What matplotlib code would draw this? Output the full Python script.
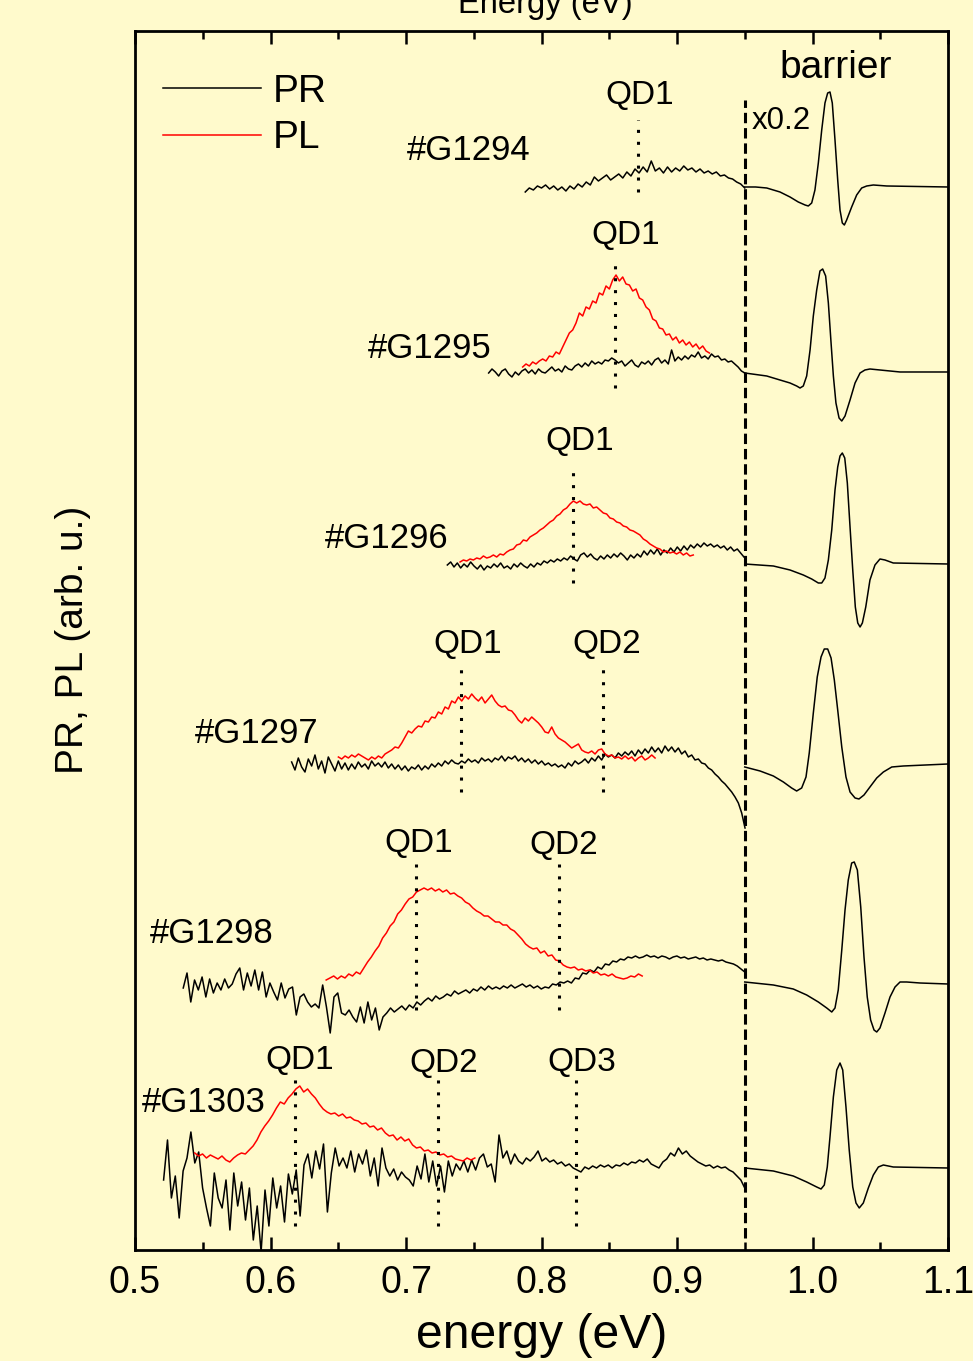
import numpy as np
import matplotlib
matplotlib.use('Agg')
import matplotlib.pyplot as plt
from matplotlib.ticker import MultipleLocator, FormatStrFormatter

plt.rcParams['font.family'] = ['Liberation Sans', 'DejaVu Sans']

# ---------------- data ----------------
samples = ['#G1294', '#G1295', '#G1296', '#G1297', '#G1298', '#G1303']
offsets = [1063, 877, 686, 483, 268, 82]

# PR spectra: (E start, E stop) and values on an even grid
pr_g1294_range = (0.788, 0.950)
pr_g1294 = [-5, -1, -3, 1, -1, 2, -2, 1, -3, 0, -4, 1, -2, 3, 0, 5, 2, 10, 6, 9,
            12, 7, 10, 13, 9, 15, 11, 18, 14, 20, 15, 26, 16, 19, 14, 20, 15, 19, 16, 21,
            17, 19, 15, 18, 14, 16, 13, 15, 11, 12, 9, 8, 5, 3, -1]

pr_g1295_range = (0.761, 0.950)
pr_g1295 = [0, 4, 1, -3, 2, 4, -1, -4, 1, -2, 2, 4, 0, 3, -1, 4, 1, 0, 3, 6,
            2, 4, 1, 7, 4, 3, 7, 9, 6, 10, 7, 12, 9, 11, 9, 13, 12, 15, 13, 10,
            12, 7, 10, 13, 8, 6, 11, 9, 12, 8, 13, 15, 10, 13, 9, 23, 12, 16, 13, 17,
            14, 18, 16, 21, 15, 17, 14, 19, 16, 17, 13, 14, 11, 12, 9, 6, 2, 0]

pr_g1296_range = (0.7305, 0.9494)
pr_g1296 = [-1, 2, -3, 1, -4, 0, -3, 2, -2, -5, -1, -6, -2, -4, 0, -3, 1, -4, -2, -5,
            0, -3, 1, -2, -4, 0, -3, 1, -1, 3, 1, 4, 2, 5, 3, 6, 4, 8, 5, 3,
            9, 11, 7, 10, 6, 4, 8, 5, 9, 6, 10, 7, 11, 8, 4, 9, 6, 10, 7, 13,
            9, 14, 10, 15, 9, 14, 11, 16, 12, 17, 13, 18, 14, 19, 16, 20, 17, 21, 18, 20,
            17, 19, 16, 18, 14, 17, 13, 15, 11, 7]

pr_g1297_range = (0.6156, 0.9502)
pr_g1297 = [5, -3, 9, 0, -5, 8, 1, 12, -2, 6, -6, 10, 3, -4, 6, -2, 4, -3, 3, -2,
            5, 0, 3, -2, 6, 1, 4, 0, 5, -1, 3, -2, 2, -3, 1, -4, 0, -2, 2, -3,
            1, -2, 3, 0, 4, 1, 6, 3, 7, 4, 3, 6, 4, 8, 5, 7, 4, 9, 6, 8,
            5, 9, 7, 11, 6, 10, 8, 11, 6, 9, 5, 8, 4, 7, 3, 6, 2, 4, 1, 3,
            0, 2, -1, 4, 1, 6, 3, 5, 8, 4, 9, 6, 11, 7, 13, 10, 12, 9, 14, 11,
            15, 12, 16, 11, 17, 13, 18, 14, 20, 15, 19, 14, 21, 16, 20, 15, 19, 13, 16, 10,
            12, 7, 8, 4, 3, -1, -3, -7, -10, -14, -17, -21, -25, -30, -36, -46, -61]

pr_g1298_range = (0.5356, 0.9500)
pr_g1298 = [-6, 9, -20, 2, -8, 5, -15, 3, -11, -1, -8, 3, -6, -2, 8, 14, -8, 9, -4, 12,
            -8, 10, -15, -1, -10, -18, -1, -16, -7, -5, -33, -15, -12, -20, -25, -22, -26, -3, -25, -51,
            -15, -11, -31, -33, -28, -35, -40, -25, -41, -20, -38, -26, -48, -35, -31, -26, -30, -27, -24, -28,
            -23, -26, -20, -23, -19, -16, -19, -14, -17, -15, -12, -14, -9, -12, -10, -8, -11, -7, -9, -5,
            -8, -4, -7, -5, -7, -4, -6, -3, -6, -4, -2, -5, -3, -6, -4, -7, -5, -6, -2, -3,
            0, -1, 1, -1, 4, 3, 9, 8, 12, 10, 15, 13, 18, 17, 21, 20, 23, 22, 25, 24,
            26, 24, 25, 27, 25, 26, 24, 26, 25, 23, 25, 26, 24, 25, 23, 24, 25, 23, 24, 22,
            23, 22, 21, 22, 20, 19, 18, 16, 13, 10]

pr_g1303_range = (0.5211, 0.9500)
pr_g1303 = [-12, 28, -30, -8, -50, -3, 10, 36, 5, 16, -20, -40, -58, -5, -30, -40, -12, -62, -5, -38,
            -14, -52, -20, -72, -38, -84, -22, -58, -10, -40, -18, -54, -6, -26, -2, -48, 3, 14, -10, 17,
            -1, 24, -44, -5, 20, 2, 10, 0, 17, -4, 14, 4, 18, -8, 10, -18, 20, 0, -8, -1,
            -12, -4, -9, -12, -18, 2, -11, 14, -14, 7, -18, 2, -24, 7, -8, 4, -2, 7, -4, 8,
            -2, 10, 14, 1, 4, -14, 33, 10, 17, 4, 14, 7, 4, 10, 7, 11, 17, 7, 10, 6,
            8, 4, 6, 2, 4, 0, -2, -4, 1, -1, 2, 0, 3, 1, 3, 0, 3, 2, 5, 3,
            6, 5, 8, 6, 9, 4, 2, 0, 6, 9, 15, 12, 20, 14, 17, 12, 9, 6, 4, 2,
            3, 0, 2, 0, 1, -2, -4, -8, -12, -20]

# PL spectra
pl_g1295_range = (0.7861, 0.9239)
pl_g1295 = [6, 9, 7, 11, 9, 12, 14, 12, 17, 16, 21, 19, 26, 33, 40, 43, 50, 60, 57, 66,
            64, 72, 70, 80, 78, 87, 84, 93, 98, 92, 96, 89, 88, 82, 84, 75, 73, 66, 63, 54,
            52, 45, 44, 38, 39, 33, 36, 30, 33, 28, 31, 26, 29, 24, 27, 22, 20]

pl_g1296_range = (0.7399, 0.9120)
pl_g1296 = [2, 4, 3, 5, 4, 6, 5, 8, 6, 7, 9, 7, 10, 9, 12, 14, 15, 19, 20, 24,
            23, 27, 29, 31, 34, 36, 39, 42, 44, 48, 50, 54, 56, 60, 63, 61, 63, 60, 59, 60,
            56, 57, 54, 51, 50, 46, 45, 42, 41, 38, 37, 34, 33, 31, 29, 25, 23, 20, 18, 16,
            15, 12, 13, 11, 12, 10, 12, 9, 11, 8, 9]

pl_g1297_range = (0.6501, 0.8838)
pl_g1297 = [10, 8, 11, 9, 12, 10, 13, 11, 9, 7, 10, 8, 11, 9, 13, 15, 17, 20, 19, 24,
            30, 36, 34, 38, 41, 40, 46, 45, 50, 49, 55, 53, 60, 58, 66, 64, 70, 66, 71, 68,
            73, 69, 66, 70, 64, 68, 72, 66, 62, 60, 61, 57, 56, 52, 47, 44, 49, 46, 50, 47,
            44, 40, 35, 34, 40, 33, 29, 27, 25, 22, 19, 21, 23, 17, 15, 14, 16, 13, 17, 18,
            13, 11, 12, 9, 10, 8, 11, 8, 10, 6, 9, 11, 7, 9, 12, 9]

pl_g1298_range = (0.6411, 0.8743)
pl_g1298 = [2, 4, 6, 3, 6, 4, 8, 6, 10, 8, 14, 20, 25, 31, 36, 44, 49, 56, 60, 68,
            72, 78, 83, 85, 90, 92, 94, 92, 94, 91, 93, 90, 92, 88, 89, 86, 84, 80, 78, 74,
            71, 69, 66, 66, 63, 60, 60, 57, 57, 53, 51, 47, 43, 38, 35, 33, 34, 29, 31, 26,
            27, 22, 21, 17, 15, 14, 15, 12, 13, 11, 12, 9, 10, 7, 8, 6, 8, 5, 4, 3,
            4, 6, 5, 8, 6]

pl_g1303_range = (0.5441, 0.7508)
pl_g1303 = [15, 12, 14, 10, 13, 11, 9, 12, 8, 6, 10, 13, 15, 14, 18, 22, 28, 36, 42, 47,
            53, 60, 66, 64, 70, 74, 79, 82, 76, 79, 74, 70, 64, 59, 56, 54, 55, 52, 54, 50,
            51, 48, 47, 44, 45, 41, 42, 38, 40, 35, 32, 33, 28, 31, 27, 29, 23, 20, 21, 17,
            18, 15, 16, 13, 14, 11, 12, 9, 8, 7, 10, 8, 10]

# barrier PR (x0.2): energies and values
bar_g1294_e = [0.950, 0.958, 0.9662, 0.9760, 0.9834, 0.9895, 0.9945, 0.9969, 0.9994, 1.0018,
               1.0043, 1.0068, 1.0092, 1.0112, 1.0129, 1.0146, 1.0166, 1.0186, 1.0203, 1.0220,
               1.0235, 1.0252, 1.0289, 1.0326, 1.0363, 1.0400, 1.0449, 1.0548, 1.100]
bar_g1294 = [0, 0, -1, -5, -10, -15, -18, -19, -16, -3,
             24, 57, 84, 94, 95, 84, 47, 7, -23, -36,
             -38, -33, -20, -8, -1, 1, 2, 1, 0]

bar_g1295_e = [0.950, 0.9662, 0.9760, 0.9834, 0.9883, 0.9908, 0.9932, 0.9957, 0.9982, 1.0006,
               1.0031, 1.0055, 1.0075, 1.0097, 1.0117, 1.0137, 1.0154, 1.0173, 1.0196, 1.0216,
               1.0240, 1.0277, 1.0314, 1.0351, 1.0387, 1.0424, 1.0498, 1.0646, 1.100]
bar_g1295 = [0, -3, -7, -10, -13, -15, -13, -3, 23, 57,
             83, 102, 104, 97, 70, 30, -3, -30, -45, -48,
             -43, -27, -10, 0, 3, 4, 3, 1, 1]

bar_g1296_e = [0.950, 0.9711, 0.9834, 0.9932, 0.9994, 1.0043, 1.0068, 1.0092, 1.0117, 1.0142,
               1.0166, 1.0186, 1.0203, 1.0220, 1.0238, 1.0257, 1.0277, 1.0297, 1.0316, 1.0334,
               1.0351, 1.0368, 1.0393, 1.0424, 1.0461, 1.0498, 1.0535, 1.0596, 1.100]
bar_g1296 = [0, -2, -6, -11, -15, -19, -19, -14, 4, 34,
             74, 97, 108, 111, 106, 81, 37, -6, -43, -59,
             -63, -59, -43, -16, -1, 5, 4, 1, 0]

bar_g1297_e = [0.950, 0.9613, 0.9711, 0.9785, 0.9846, 0.9883, 0.9920, 0.9952, 0.9976, 1.0006,
               1.0035, 1.0063, 1.0087, 1.0112, 1.0137, 1.0161, 1.0186, 1.0216, 1.0247, 1.0277,
               1.0314, 1.0343, 1.0380, 1.0424, 1.0474, 1.0523, 1.0585, 1.0670, 1.100]
bar_g1297 = [0, -4, -9, -15, -21, -24, -21, -10, 14, 54,
             90, 110, 118, 118, 109, 87, 57, 20, -10, -25,
             -31, -32, -28, -20, -11, -5, 0, 1, 3]

bar_g1298_e = [0.950, 0.9711, 0.9858, 0.9957, 1.0043, 1.0105, 1.0142, 1.0166, 1.0190, 1.0216,
               1.0240, 1.0264, 1.0289, 1.0308, 1.0331, 1.0356, 1.0380, 1.0404, 1.0429, 1.0454,
               1.0474, 1.0498, 1.0535, 1.0572, 1.0609, 1.0646, 1.0695, 1.0793, 1.100]
bar_g1298 = [0, -3, -7, -13, -20, -26, -30, -26, -8, 32,
             72, 102, 119, 120, 112, 75, 25, -15, -38, -48,
             -50, -46, -31, -15, -5, 0, 0, -1, -2]

bar_g1303_e = [0.950, 0.9711, 0.9858, 0.9957, 1.0031, 1.0063, 1.0087, 1.0109, 1.0129, 1.0154,
               1.0179, 1.0203, 1.0223, 1.0247, 1.0271, 1.0297, 1.0321, 1.0345, 1.0375, 1.0412,
               1.0449, 1.0486, 1.0523, 1.0596, 1.100]
bar_g1303 = [0, -3, -8, -14, -19, -21, -17, 1, 31, 71,
             98, 105, 98, 61, 18, -19, -35, -40, -35, -20,
             -7, 1, 3, 1, 0]

# QD transition energies per sample
qd_energies = {
    '#G1294': [('QD1', 0.8712)],
    '#G1295': [('QD1', 0.8542)],
    '#G1296': [('QD1', 0.8235)],
    '#G1297': [('QD1', 0.7406), ('QD2', 0.8454)],
    '#G1298': [('QD1', 0.7077), ('QD2', 0.8132)],
    '#G1303': [('QD1', 0.6181), ('QD2', 0.7236), ('QD3', 0.8255)],
}
barrier_edge = 0.95

# ---------------- layout / style ----------------
pr_data = [(pr_g1294_range, pr_g1294), (pr_g1295_range, pr_g1295), (pr_g1296_range, pr_g1296),
           (pr_g1297_range, pr_g1297), (pr_g1298_range, pr_g1298), (pr_g1303_range, pr_g1303)]
pl_data = [None, (pl_g1295_range, pl_g1295), (pl_g1296_range, pl_g1296),
           (pl_g1297_range, pl_g1297), (pl_g1298_range, pl_g1298), (pl_g1303_range, pl_g1303)]
bar_data = [(bar_g1294_e, bar_g1294), (bar_g1295_e, bar_g1295), (bar_g1296_e, bar_g1296),
            (bar_g1297_e, bar_g1297), (bar_g1298_e, bar_g1298), (bar_g1303_e, bar_g1303)]

bg = '#FFFACC'
fig = plt.figure(figsize=(9.73, 13.61), dpi=100, facecolor=bg)
ax = fig.add_axes([0.13875, 0.08156, 0.83556, 0.89567])
ax.set_facecolor(bg)
ax.set_xlim(0.5, 1.1)
ax.set_ylim(0, 1219)

lw = 1.1
for i, s in enumerate(samples):
    off = offsets[i]
    rng, vals = pr_data[i]
    e = np.linspace(rng[0], rng[1], len(vals))
    ax.plot(e, off + np.asarray(vals), color='black', lw=lw)
    if pl_data[i] is not None:
        rng, vals = pl_data[i]
        e = np.linspace(rng[0], rng[1], len(vals))
        ax.plot(e, off + np.asarray(vals), color='red', lw=lw)
    be, bv = bar_data[i]
    ax.plot(be, off + np.asarray(bv), color='black', lw=lw)

# dashed barrier edge
ax.plot([barrier_edge, barrier_edge], [12, 1150], color='black', lw=2.2,
        linestyle=(0, (3.4, 1.6)))

# QD dotted lines and labels
qd_line_y = {'#G1294': (1058, 1130), '#G1295': (862, 989), '#G1296': (667, 783),
             '#G1297': (458, 584), '#G1298': (240, 386), '#G1303': (24, 174)}
qd_label_pos = {'#G1294': [(0.8727, 1146)], '#G1295': [(0.8624, 1006)],
                '#G1296': [(0.8284, 800)],
                '#G1297': [(0.7458, 597), (0.8483, 597)],
                '#G1298': [(0.7096, 398), (0.8166, 396)],
                '#G1303': [(0.6218, 181), (0.7280, 178), (0.8299, 179)]}
for s in samples:
    y0, y1 = qd_line_y[s]
    for (name, en), (lx, ly) in zip(qd_energies[s], qd_label_pos[s]):
        ax.plot([en, en], [y0, y1], color='black', lw=2.2, linestyle=(0, (1, 2.9)))
        ax.text(lx, ly, name, fontsize=24, ha='center', va='baseline')

# sample labels
label_pos = [(0.7007, 1090), (0.6720, 892), (0.6402, 702), (0.5443, 507), (0.5111, 307), (0.5052, 138)]
for s, (lx, ly) in zip(samples, label_pos):
    ax.text(lx, ly, s, fontsize=25, ha='left', va='baseline')

ax.text(1.0173, 1172, 'barrier', fontsize=28, ha='center', va='baseline')
ax.text(0.9554, 1121, 'x0.2', fontsize=22.5, ha='left', va='baseline')

# legend (manual)
ax.plot([0.5207, 0.5930], [1162, 1162], color='black', lw=1.1)
ax.plot([0.5207, 0.5930], [1115, 1115], color='red', lw=1.1)
ax.text(0.6018, 1148, 'PR', fontsize=28, ha='left', va='baseline')
ax.text(0.6018, 1102, 'PL', fontsize=28, ha='left', va='baseline')

# axes styling
for sp in ax.spines.values():
    sp.set_linewidth(2.0)
ax.set_yticks([])
ax.xaxis.set_major_locator(MultipleLocator(0.1))
ax.xaxis.set_minor_locator(MultipleLocator(0.05))
ax.xaxis.set_major_formatter(FormatStrFormatter('%.1f'))
ax.tick_params(axis='x', which='both', direction='in', top=True, bottom=True,
               labeltop=False, labelsize=27, pad=11)
ax.tick_params(axis='x', which='major', length=9.4, width=1.8)
ax.tick_params(axis='x', which='minor', length=5.8, width=1.8)

fig.text(0.5566, 0.0096, 'energy (eV)', fontsize=34.7, ha='center', va='baseline')
fig.text(0.0755, 0.5298, 'PR, PL (arb. u.)', fontsize=28, ha='center', va='center', rotation=90)
# top axis title, partly outside the figure as in the reference
fig.text(0.5601, 0.9905, 'Energy (eV)', fontsize=23.6, ha='center', va='baseline')

fig.savefig('out.png', dpi=100, facecolor=bg)
